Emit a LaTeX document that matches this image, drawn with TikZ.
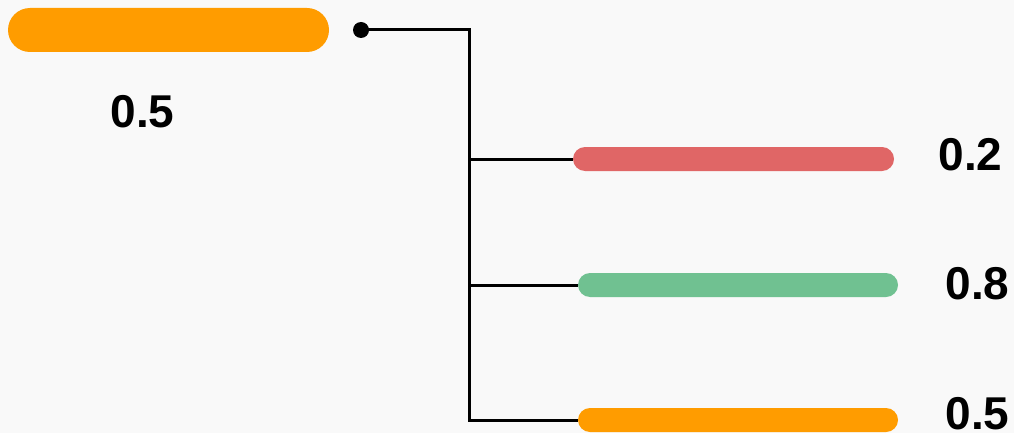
\documentclass[tikz,border=0pt]{standalone}
\usepackage{fontspec}
\setmainfont{Liberation Sans}
\usetikzlibrary{shapes.misc}
\definecolor{bgcol}{HTML}{F9F9F9}
\definecolor{barorange}{HTML}{FF9C00}
\definecolor{barred}{HTML}{E06666}
\definecolor{bargreen}{HTML}{70C191}
\tikzset{
  bar/.style={rounded rectangle, inner sep=0pt, draw=none},
  val/.style={font=\fontsize{46}{46}\selectfont\bfseries, inner sep=0pt, anchor=center},
  tree/.style={line width=3pt, black},
}
\begin{document}
\begin{tikzpicture}[x=1pt,y=-1pt]
\fill[bgcol] (0,0) rectangle (1014,433);
\useasboundingbox (0,0) rectangle (1014,433);
% bars
\node[bar, fill=barorange, minimum width=321pt, minimum height=44pt] (root) at (168.5,30) {};
\node[bar, fill=barred, minimum width=321pt, minimum height=24pt] (b1) at (733.5,159) {};
\node[bar, fill=bargreen, minimum width=320pt, minimum height=24pt] (b2) at (738,285) {};
\node[bar, fill=barorange, minimum width=320pt, minimum height=24pt] (b3) at (738,420) {};
% labels
\node[val] (l0) at (142.5,111.5) {0.5};
\node[val] (l1) at (970.5,155) {0.2};
\node[val] (l2) at (977.5,284) {0.8};
\node[val] (l3) at (977.5,414) {0.5};
% tree
\node[circle, fill=black, minimum size=16pt, inner sep=0pt] (dot) at (361,30) {};
\coordinate (j) at (469,30);
\draw[tree, line join=miter] (dot.center) -- (j) -- (j |- b3.west) -- (b3.west);
\draw[tree] (j |- b1.west) -- (b1.west);
\draw[tree] (j |- b2.west) -- (b2.west);
\end{tikzpicture}
\end{document}
